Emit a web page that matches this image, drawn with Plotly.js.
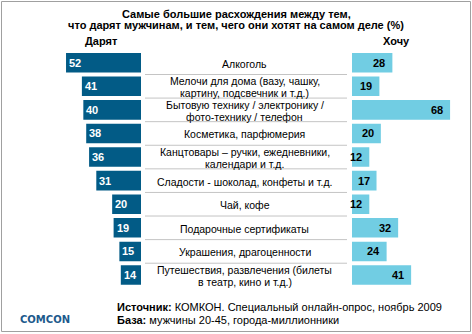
<!DOCTYPE html>
<html><head><meta charset="utf-8">
<script src="https://cdn.plot.ly/plotly-3.0.1.min.js"></script>
<style>html,body{margin:0;padding:0;background:#fff}#chart{width:472px;height:334px}</style>
</head><body><div id="chart"></div>
<script>
const categories = [
  "Алкоголь",
  "Мелочи для дома (вазу, чашку,<br>картину, подсвечник и т.д.)",
  "Бытовую технику / электронику /<br>фото-технику / телефон",
  "Косметика, парфюмерия",
  "Канцтовары – ручки, ежедневники,<br>календари и т.д.",
  "Сладости - шоколад, конфеты и т.д.",
  "Чай, кофе",
  "Подарочные сертификаты",
  "Украшения, драгоценности",
  "Путешествия, развлечения (билеты<br>в театр, кино и т.д.)"
];
const given = [52, 41, 40, 38, 36, 31, 20, 19, 15, 14];
const wanted = [28, 19, 68, 20, 12, 17, 12, 32, 24, 41];
const titleLines = ["Самые большие расхождения между тем,", "что дарят мужчинам, и тем, чего они хотят на самом деле (%)"];
const headerGiven = "Дарят";
const headerWanted = "Хочу";
const sourceLines = ["<b>Источник:</b> КОМКОН. Специальный онлайн-опрос, ноябрь 2009", "<b>База:</b> мужчины 20-45, города-миллионники"];
const logoText = "COMCON";

const W = 472, H = 334;
const px = v => v / W;
const py = v => 1 - v / H;
const idx = categories.map((_, i) => i);
const FONT = "Liberation Sans, Arial, sans-serif";

const traces = [
  {type: 'bar', orientation: 'h', x: given, y: idx, xaxis: 'x', yaxis: 'y',
   marker: {color: '#025b86'}, hoverinfo: 'none'},
  {type: 'bar', orientation: 'h', x: wanted, y: idx, xaxis: 'x2', yaxis: 'y',
   marker: {color: '#71cde3'}, hoverinfo: 'none'}
];

const annotations = [];
// title
titleLines.forEach((t, i) => annotations.push({
  xref: 'paper', yref: 'paper', x: px(236), y: py(14 + i * 11), text: '<b>' + t + '</b>',
  showarrow: false, xanchor: 'center', yanchor: 'middle', font: {family: FONT, size: 11, color: '#000'}
}));
annotations.push({xref: 'paper', yref: 'paper', x: px(101.5), y: py(41), text: '<b>' + headerGiven + '</b>',
  showarrow: false, xanchor: 'center', yanchor: 'middle', font: {family: FONT, size: 11, color: '#000'}});
annotations.push({xref: 'paper', yref: 'paper', x: px(396), y: py(41), text: '<b>' + headerWanted + '</b>',
  showarrow: false, xanchor: 'center', yanchor: 'middle', font: {family: FONT, size: 11, color: '#000'}});
// category labels (two-line labels set with tight line spacing)
const LINE = 11.8;
categories.forEach((c, i) => {
  const lines = c.split('<br>');
  lines.forEach((ln, j) => {
    const shift = (lines.length - 1) / 2 * LINE - j * LINE;
    annotations.push({xref: 'paper', yref: 'y', x: px(245), y: i, text: ln, yshift: shift - 1,
      showarrow: false, xanchor: 'center', yanchor: 'middle', borderpad: 0,
      font: {family: FONT, size: 10.5, color: '#000'}});
  });
});
// value labels
given.forEach((v, i) => annotations.push({xref: 'x', yref: 'y', x: v, y: i, text: '<b>' + v + '</b>',
  showarrow: false, xanchor: 'left', yanchor: 'middle', xshift: 1,
  font: {family: FONT, size: 11, color: '#fff'}}));
wanted.forEach((v, i) => annotations.push({xref: 'x2', yref: 'y', x: v, y: i, text: '<b>' + v + '</b>',
  showarrow: false, xanchor: 'right', yanchor: 'middle', xshift: -5,
  font: {family: FONT, size: 11, color: '#000'}}));
// footer
sourceLines.forEach((t, i) => annotations.push({xref: 'paper', yref: 'paper', x: px(115), y: py(306.5 + i * 13.5), text: t,
  showarrow: false, xanchor: 'left', yanchor: 'middle', font: {family: FONT, size: 11, color: '#000'}}));
annotations.push({xref: 'paper', yref: 'paper', x: px(45), y: py(319.5), text: '<b>' + logoText + '</b>',
  showarrow: false, xanchor: 'center', yanchor: 'middle', font: {family: 'DejaVu Sans, Verdana, sans-serif', size: 10, color: '#1d5a8c'}});

const shapes = [];
for (let i = 0; i < categories.length - 1; i++) {
  shapes.push({type: 'line', xref: 'paper', yref: 'y', x0: px(145), x1: px(347), y0: i + 0.5, y1: i + 0.5,
    line: {color: '#c4c4c4', width: 1}});
}
shapes.push({type: 'rect', xref: 'paper', yref: 'paper', x0: px(1.5), x1: px(470.5), y0: py(331.5), y1: py(1.5),
  line: {color: '#a0a0a0', width: 1}, fillcolor: 'rgba(0,0,0,0)'});

const layout = {
  width: W, height: H, margin: {l: 0, r: 0, t: 0, b: 0},
  paper_bgcolor: '#fff', plot_bgcolor: '#fff', showlegend: false, bargap: 0.17,
  xaxis: {domain: [px(61.7), px(141)], range: [55, 0], visible: false, fixedrange: true},
  xaxis2: {domain: [px(352), px(464.5)], range: [0, 78], visible: false, fixedrange: true},
  yaxis: {domain: [py(286.8), py(50.9)], range: [9.5, -0.5], visible: false, fixedrange: true},
  annotations: annotations, shapes: shapes
};
Plotly.newPlot('chart', traces, layout, {staticPlot: true, displayModeBar: false});
</script></body></html>
